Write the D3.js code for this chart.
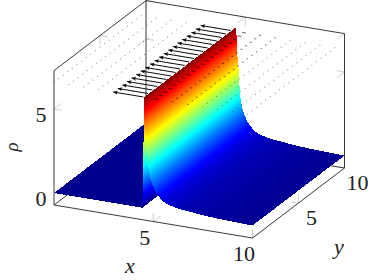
<!DOCTYPE html>
<html>
<head>
<meta charset="utf-8">
<script src="https://d3js.org/d3.v7.min.js"></script>
</head>
<body style="margin:0;background:#fff">
<svg id="plot" width="377" height="280" style="display:block"></svg>
<script>
// Density profile along x (it does not vary with y)
const profileX = [0, 4.45, 4.55, 4.58, 4.66, 4.72, 4.77, 4.87, 5.07, 5.2, 5.5, 5.8, 6.1, 6.5, 7, 7.5, 8, 9, 10];
const profileRho = [0, 0, 6.6, 5.2, 4.2, 2.9, 2.3, 1.73, 1.17, 0.92, 0.56, 0.42, 0.34, 0.26, 0.21, 0.15, 0.11, 0.06, 0.03];

// Velocity field sampled on a regular grid in the plane rho = quiverZ
const quiverX = [0, 0.75, 1.5, 2.25, 3, 3.75, 4.5, 5.25, 6, 6.75, 7.5, 8.25, 9, 9.75];
const quiverY = [0, 0.5, 1, 1.5, 2, 2.5, 3, 3.5, 4, 4.5, 5, 5.5, 6, 6.5, 7, 7.5, 8, 8.5, 9, 9.5];
const quiverU = [0.01, 0.01, 0.01, 0.01, 0.01, 0.01, 1.5, 0.16, 0.06, 0.03, 0.01, 0.01, 0.01, 0.01];
const quiverZ = 6.6;

const xTicks = [5, 10];
const yTicks = [5, 10];
const zTicks = [0, 5];
const domainX = [0, 10];
const domainY = [0, 10];
const domainZ = [-0.714, 7.286];

// Jet colormap
const colorStops = [0, 0.125, 0.375, 0.625, 0.875, 1];
const colorRange = ["#00008f", "#0000ff", "#00ffff", "#ffff00", "#ff0000", "#800000"];
const jet = d3.scaleLinear()
  .domain(colorStops.map(t => t * 6.6))
  .range(colorRange)
  .interpolate(d3.interpolateRgb)
  .clamp(true);

// Oblique projection: each data axis contributes a screen offset
const origin = [54, 205];
const xToPx = d3.scaleLinear().domain(domainX).range([0, 198.5]);
const xToPy = d3.scaleLinear().domain(domainX).range([0, 33]);
const yToPx = d3.scaleLinear().domain(domainY).range([0, 92]);
const yToPy = d3.scaleLinear().domain(domainY).range([0, -70]);
const zToPy = d3.scaleLinear().domain(domainZ).range([0, -134.4]);
const project = (x, y, z) => [
  origin[0] + xToPx(x) + yToPx(y),
  origin[1] + xToPy(x) + yToPy(y) + zToPy(z)
];

const svg = d3.select("#plot");
const path3 = pts => d3.line()(pts.map(p => project(...p)));
const [x0, x1] = domainX, [y0, y1] = domainY, [z0, z1] = domainZ;

// Box edges behind the surface
const boxEdges = [
  [[x0, y1, z0], [x0, y0, z0]],
  [[x0, y1, z0], [x1, y1, z0]],
  [[x0, y1, z0], [x0, y1, z1]],
  [[x0, y0, z0], [x0, y0, z1]],
  [[x1, y1, z0], [x1, y1, z1]],
  [[x0, y0, z1], [x0, y1, z1]],
  [[x0, y1, z1], [x1, y1, z1]],
  [[x0, y0, z0], [x1, y0, z0]],
  [[x1, y0, z0], [x1, y1, z0]]
];

// Tick marks run along the two box faces that meet at each edge
const dx = 0.4, dy = 0.8, dz = 0.5;
const tickMarks = [];
xTicks.forEach(t => {
  tickMarks.push([[t, y0, z0], [t, y0 + dy, z0]], [[t, y0, z0], [t, y0, z0 + dz]]);
  tickMarks.push([[t, y1, z1], [t, y1 - dy, z1]], [[t, y1, z1], [t, y1, z1 - dz]]);
});
yTicks.forEach(t => {
  tickMarks.push([[x1, t, z0], [x1 - dx, t, z0]], [[x1, t, z0], [x1, t, z0 + dz]]);
  tickMarks.push([[x0, t, z1], [x0 + dx, t, z1]], [[x0, t, z1], [x0, t, z1 - dz]]);
});
zTicks.forEach(t => {
  tickMarks.push([[x0, y0, t], [x0 + dx, y0, t]], [[x0, y0, t], [x0, y0 + dy, t]]);
  tickMarks.push([[x1, y1, t], [x1 - dx, y1, t]], [[x1, y1, t], [x1, y1 - dy, t]]);
  tickMarks.push([[x0, y1, t], [x0 + dx, y1, t]], [[x0, y1, t], [x0, y1 - dy, t]]);
});

svg.append("g").selectAll("path").data(tickMarks).join("path")
  .attr("d", path3).attr("fill", "none")
  .attr("stroke", "#b8b8b8").attr("stroke-width", 0.7);

svg.append("g").selectAll("path").data(boxEdges).join("path")
  .attr("d", path3).attr("fill", "none")
  .attr("stroke", "#3a3a3a").attr("stroke-width", 1);

// Surface: painted from low x to high x so nearer strips cover farther ones
const rhoAt = d3.scaleLinear().domain(profileX).range(profileRho);
const strips = [];
d3.pairs(profileX).forEach(([a, b]) => {
  const n = Math.max(1, Math.ceil(Math.abs(rhoAt(b) - rhoAt(a)) / 0.03), Math.ceil((b - a) / 0.05));
  const step = d3.scaleLinear().domain([0, n]).range([a, b]);
  d3.range(n).forEach(i => strips.push([step(i), step(i + 1)]));
});
svg.append("g").attr("shape-rendering", "crispEdges")
  .selectAll("path").data(strips).join("path")
  .attr("d", ([a, b]) => path3([
    [a, y0, rhoAt(a)], [b, y0, rhoAt(b)], [b, y1, rhoAt(b)], [a, y1, rhoAt(a)]
  ]) + "Z")
  .attr("fill", ([a, b]) => jet((rhoAt(a) + rhoAt(b)) / 2));

// Quiver plane above the surface
svg.append("defs").append("marker").attr("id", "head")
  .attr("viewBox", "0 0 6 6").attr("refX", 5.5).attr("refY", 3)
  .attr("markerWidth", 6).attr("markerHeight", 4.4).attr("markerUnits", "userSpaceOnUse")
  .attr("orient", "auto")
  .append("path").attr("d", "M0,0.3L6,3L0,5.7L1.4,3Z").attr("fill", "#000");

const vectors = quiverY.flatMap(y => quiverX.map((x, i) => ({ x, y, u: quiverU[i] })));
svg.append("g").selectAll("path").data(vectors).join("path")
  .attr("d", d => path3([[d.x, d.y, quiverZ], [d.x - d.u, d.y, quiverZ]]))
  .attr("fill", "none")
  .attr("stroke", "#000")
  .attr("stroke-width", d => d.u > 1 ? 1 : 0.9)
  .attr("stroke-opacity", d => d.u > 1 ? 0.95 : d.u > 0.02 ? 0.65 : 0.5)
  .attr("stroke-linecap", d => d.u > 1 ? "butt" : "round")
  .attr("marker-end", d => d.u > 1 ? "url(#head)" : null);

// Tick labels and axis titles, positioned by their text baseline
const label = (txt, x, y, opts = {}) => svg.append("text")
  .attr("x", x).attr("y", y)
  .attr("text-anchor", "middle")
  .attr("style", `font: ${opts.italic ? "italic " : ""}${opts.size || 22}px 'Liberation Serif', serif; fill: #222`)
  .attr("transform", opts.rotate ? `rotate(${opts.rotate} ${x} ${y})` : null)
  .text(String(txt));

zTicks.forEach(t => {
  const p = project(x0, y0, t);
  label(t, p[0] - 13, p[1] + 13);
});
xTicks.forEach(t => {
  const p = project(t, y0, z0);
  label(t, p[0] - 8.5, p[1] + 23);
});
yTicks.forEach(t => {
  const p = project(x1, t, z0);
  label(t, p[0] + 13, p[1] + 22);
});
label("x", 130, 272.5, { italic: true });
label("y", 339, 254, { italic: true });
label("ρ", 18, 147, { italic: true, size: 19, rotate: -90 });
</script>
</body>
</html>
